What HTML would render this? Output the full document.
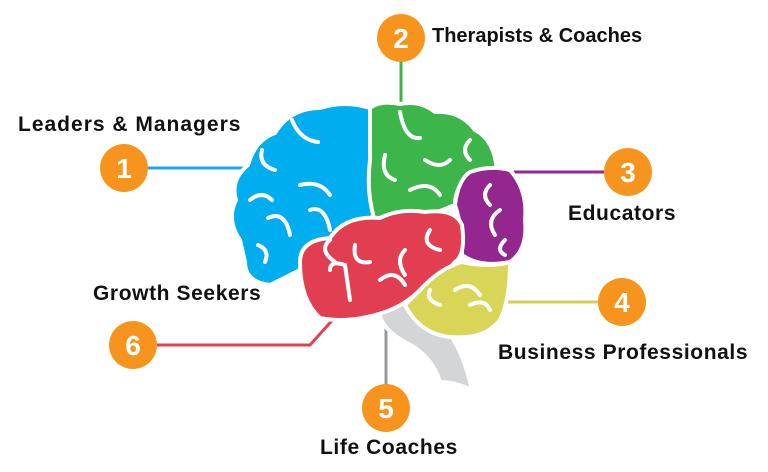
<!DOCTYPE html>
<html><head><meta charset="utf-8"><style>
html,body{margin:0;padding:0;background:#fff;}
body{width:768px;height:472px;position:relative;overflow:hidden;font-family:"Liberation Sans",sans-serif;}
.t{position:absolute;font-weight:bold;font-size:21px;letter-spacing:0.6px;color:#111;white-space:nowrap;}
</style></head><body>
<svg width="768" height="472" style="position:absolute;left:0;top:0">
<g fill="none" stroke-width="3">
<path d="M148 168 H250 L258 176" stroke="#1aa9e2"/>
<path d="M401 62 V106" stroke="#3bb44a"/>
<path d="M604 172 H515 L505 182" stroke="#8e2a8f"/>
<path d="M598 302 H503 L495 296" stroke="#d6d052"/>
<path d="M386 384 V322" stroke="#999"/>
<path d="M157 345 H310 L337 315" stroke="#e0404f"/>
</g>
<g stroke="#fff" stroke-width="4" stroke-linejoin="round">
<path d="M392 298 Q420 298 442 325 Q462 345 472 390 Q455 382 440 382 Q432 355 405 342 Q382 330 378 310 Z" fill="#d3d5d6"/>
<path d="M240 240 Q226 220 236 200 Q230 180 248 165 Q255 140 275 133 Q290 108 320 108 Q345 100 370 108 L378 130 Q365 160 372 200 L380 235 L330 240 Q300 245 300 270 L270 285 Q245 282 245 262 Z" fill="#00aeef"/>
<path d="M370 108 Q380 100 400 104 Q420 100 435 112 Q460 110 475 130 Q495 140 497 172 L470 178 Q455 185 455 205 L430 215 Q400 210 380 235 Q365 200 370 160 Z" fill="#3cb54a"/>
<path d="M470 172 Q490 165 510 170 Q528 190 525 220 Q528 250 510 262 Q480 268 462 255 Q462 225 455 205 Q458 180 470 172 Z" fill="#93278f"/>
<path d="M300 262 Q300 240 330 238 Q345 215 380 218 Q400 208 425 212 Q455 208 462 225 Q466 255 455 262 Q440 280 420 290 Q405 305 385 312 Q350 324 320 318 Q300 300 300 262 Z" fill="#e23e52"/>
<path d="M420 290 Q440 268 462 262 Q490 268 510 262 Q510 300 500 320 Q485 340 450 337 Q420 334 405 305 Z" fill="#d9d557"/>
</g>
<g fill="none" stroke="#fff" stroke-width="4" stroke-linecap="round">
<path d="M292 120 Q300 140 318 142"/><path d="M262 150 Q258 165 275 170"/><path d="M250 200 Q262 190 272 200"/><path d="M268 218 Q285 210 290 235"/><path d="M300 185 Q320 180 330 195"/><path d="M310 210 Q325 205 330 230"/><path d="M258 245 Q270 250 265 262"/>
<path d="M400 112 Q405 140 420 138"/><path d="M385 155 Q380 175 395 180"/><path d="M425 160 Q440 170 450 160"/><path d="M410 190 Q430 180 440 195"/><path d="M470 140 Q460 150 470 160"/>
<path d="M490 185 Q480 195 490 205"/><path d="M500 210 Q485 220 495 235"/><path d="M505 240 Q495 250 505 255"/>
<path d="M330 240 Q318 250 335 262"/><path d="M355 245 Q352 265 370 262"/><path d="M330 270 Q330 260 345 265 L350 300"/><path d="M405 250 Q395 260 405 275"/><path d="M430 230 Q420 245 440 250"/><path d="M380 280 Q395 268 405 285"/>
<path d="M430 290 Q425 300 440 305"/><path d="M455 290 Q470 280 480 295"/><path d="M470 305 Q485 298 490 310"/>
</g>
<g fill="#f7941d">
<circle cx="124" cy="168" r="24"/><circle cx="401" cy="38" r="24"/><circle cx="628" cy="172" r="24"/>
<circle cx="622" cy="302" r="24"/><circle cx="386" cy="408" r="24"/><circle cx="133" cy="345" r="24"/>
</g>
<g fill="#fff" font-family="Liberation Sans,sans-serif" font-weight="bold" font-size="28" text-anchor="middle">
<text x="124" y="178">1</text><text x="401" y="48">2</text><text x="628" y="182">3</text>
<text x="622" y="312">4</text><text x="386" y="418">5</text><text x="133" y="355">6</text>
</g>
</svg>
<div class="t" style="left:18px;top:113px;letter-spacing:1px">Leaders &amp; Managers</div>
<div class="t" style="left:432px;top:25px;font-size:20px;letter-spacing:0px">Therapists &amp; Coaches</div>
<div class="t" style="left:568px;top:202px">Educators</div>
<div class="t" style="left:498px;top:341px">Business Professionals</div>
<div class="t" style="left:320px;top:436px">Life Coaches</div>
<div class="t" style="left:93px;top:282px">Growth Seekers</div>
</body></html>
